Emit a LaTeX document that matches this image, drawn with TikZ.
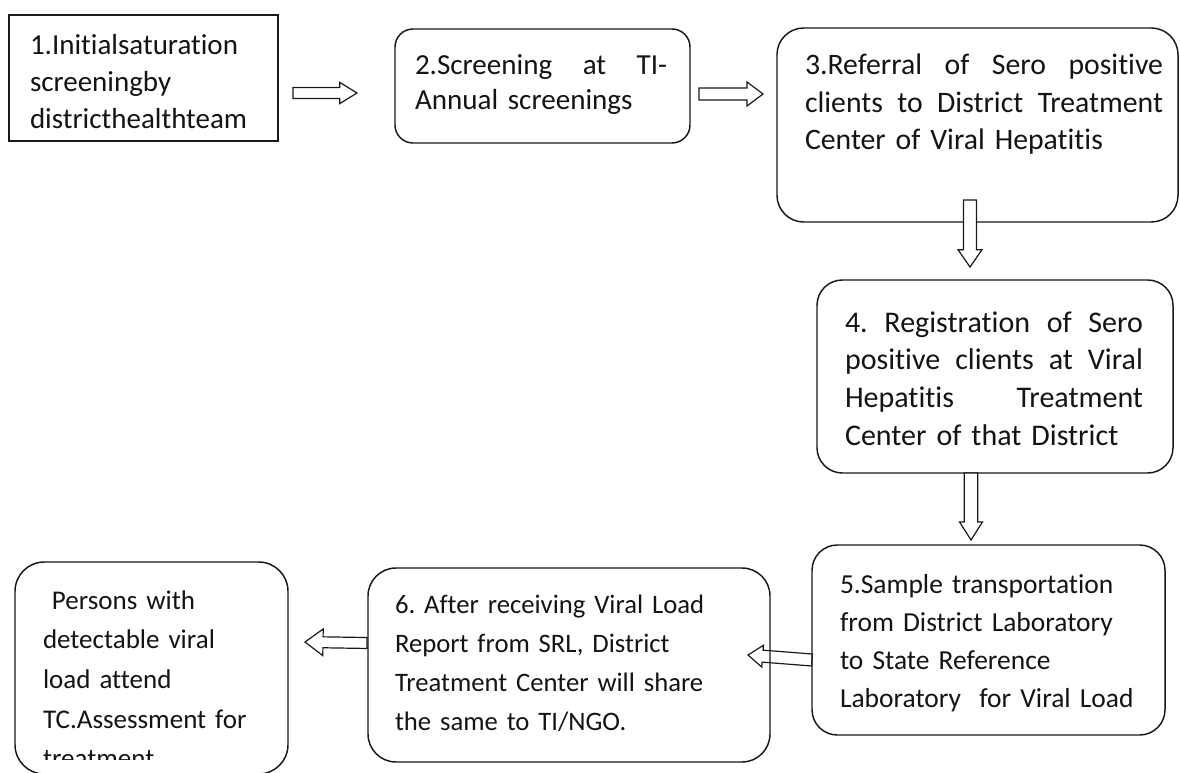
\documentclass[tikz,border=0pt]{standalone}
\usepackage{fontspec}
\setmainfont{Carlito}[Ligatures=NoCommon]
\usetikzlibrary{calc}
\frenchspacing
\hbadness=10000
\newcommand\blockarr[6][]{%
  \coordinate (bah) at ($(#3)!#6!(#2)$);
  \draw[blockarrow,#1] ($(#2)!#4!90:(#3)$) -- ($(bah)!#4!-90:(#2)$) -- ($(bah)!#5!-90:(#2)$) -- (#3) -- ($(bah)!#5!90:(#2)$) -- ($(bah)!#4!90:(#2)$) -- ($(#2)!#4!-90:(#3)$) -- cycle;}
\newcommand\jline[2]{\makebox[#1][s]{\spaceskip=0pt\xspaceskip=0pt\relax #2}}
\tikzset{
  box/.style={draw=black!90, line width=1.1pt, inner sep=0pt, outer sep=0pt, fill=white},
  rbox/.style={box, rounded corners=#1},
  blockarrow/.style={draw=black!90, line width=0.9pt, fill=white, line join=miter},
  txt/.style={anchor=base west, inner sep=0pt, outer sep=0pt, align=left, text=black!92},
}
\begin{document}
\begin{tikzpicture}[x=0.75pt,y=-0.75pt]
\useasboundingbox (0,0) rectangle (1180,773);
\fill[white] (0,0) rectangle (1180,773);
% boxes
\node[box, minimum width=201.75pt, minimum height=94.5pt] (b1) at (143.5,78) {};
\node[rbox=13.5pt, minimum width=221.25pt, minimum height=85.5pt] (b2) at (542.5,86) {};
\node[rbox=20pt, minimum width=300.75pt, minimum height=145.5pt] (b3) at (977.5,125) {};
\node[rbox=19pt, minimum width=267pt, minimum height=144.75pt] (b4) at (995,376.5) {};
\node[rbox=19pt, minimum width=264.75pt, minimum height=142.5pt] (b5) at (988.5,640) {};
\node[rbox=21pt, minimum width=301.5pt, minimum height=145.5pt] (b6) at (569,665) {};
\node[rbox=22pt, minimum width=204.75pt, minimum height=159pt] (b7) at (151.5,668) {};
% texts
\node[txt, text width=200pt, font={\fontsize{21.75pt}{27.75pt}\selectfont}] (t1) at (30,55)
  {1.Initialsaturation\\screeningby\\districthealthteam};
\node[txt, text width=189pt, font={\fontsize{21.8pt}{26.25pt}\selectfont}] (t2) at (415,75)
  {\jline{189pt}{2.Screening at TI-}\\Annual screenings};
\node[txt, text width=268.5pt, font={\fontsize{22.3pt}{28.1pt}\selectfont}] (t3) at (805,75)
  {\jline{268.5pt}{3.Referral of Sero positive}\\\jline{268.5pt}{clients to District Treatment}\\Center of Viral Hepatitis};
\node[txt, text width=223.5pt, font={\fontsize{22.5pt}{28.3pt}\selectfont}] (t4) at (845,332)
  {\jline{223.5pt}{4. Registration of Sero}\\\jline{223.5pt}{positive clients at Viral}\\\jline{223.5pt}{Hepatitis Treatment}\\Center of that District};
\node[txt, text width=240pt, font={\fontsize{20.6pt}{28.7pt}\selectfont}] (t5) at (840,593)
  {5.Sample transportation\\from District Laboratory\\to State Reference\\Laboratory~ for Viral Load};
\node[txt, text width=280pt, font={\fontsize{20pt}{29.3pt}\selectfont}] (t6) at (395,613)
  {6. After receiving Viral Load\\Report from SRL, District\\Treatment Center will share\\the same to TI/NGO.};
\begin{scope}
\clip (0,540) rectangle (300,759);
\node[txt, text width=190pt, font={\fontsize{20.25pt}{29.8pt}\selectfont}] (t7) at (43,609)
  {\ Persons with\\detectable viral\\load attend\\TC.Assessment for\\treatment};
\end{scope}
% connector end points
\coordinate (a1s) at (293,93);  \coordinate (a1e) at (357,93);
\coordinate (a2s) at (699,94);  \coordinate (a2e) at (763,94);
\coordinate (a3s) at (970,200); \coordinate (a3e) at (970,267);
\coordinate (a4s) at (971,473); \coordinate (a4e) at (971,540);
\coordinate (a5s) at (812,660); \coordinate (a5e) at (748,655);
\coordinate (a6s) at (367,643); \coordinate (a6e) at (305,642);
% block arrows
\blockarr{a1s}{a1e}{4.1pt}{8pt}{13pt}
\blockarr{a2s}{a2e}{4.5pt}{9pt}{12pt}
\blockarr{a3s}{a3e}{4.9pt}{9pt}{13pt}
\blockarr{a4s}{a4e}{5pt}{8.6pt}{13.5pt}
\blockarr[fill=none]{a5s}{a5e}{4.5pt}{8.2pt}{11pt}
\blockarr{a6s}{a6e}{4.1pt}{10pt}{13.5pt}
\end{tikzpicture}
\end{document}
